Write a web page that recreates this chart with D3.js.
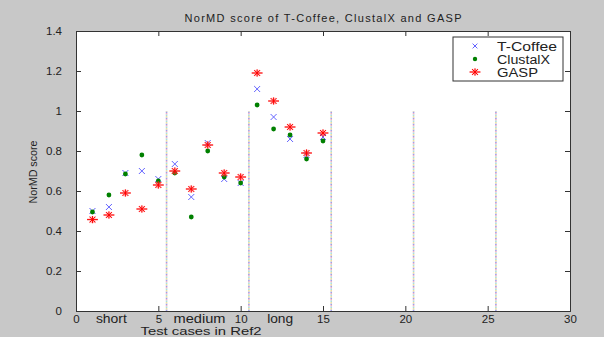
<!DOCTYPE html>
<html>
<head>
<meta charset="utf-8">
<script src="https://cdn.jsdelivr.net/npm/d3@7"></script>
<style>
  body { margin: 0; background: #c8c8c8; }
  svg { display: block; font-family: "Liberation Sans", Arial, sans-serif; }
</style>
</head>
<body>
<svg id="chart" width="604" height="337"></svg>
<script>
// test case numbers 1..15
const cases = [1, 2, 3, 4, 5, 6, 7, 8, 9, 10, 11, 12, 13, 14, 15];
const tcoffee = [0.50, 0.52, 0.69, 0.70, 0.66, 0.735, 0.57, 0.84, 0.66, 0.64, 1.11, 0.97, 0.86, 0.78, 0.87];
const clustalx = [0.495, 0.58, 0.685, 0.78, 0.65, 0.69, 0.47, 0.80, 0.67, 0.64, 1.03, 0.91, 0.88, 0.76, 0.85];
const gasp = [0.457, 0.48, 0.59, 0.51, 0.63, 0.70, 0.61, 0.83, 0.69, 0.67, 1.19, 1.05, 0.92, 0.79, 0.89];
const xTicks = [0, 5, 10, 15, 20, 25, 30];
const yTicks = [0, 0.2, 0.4, 0.6, 0.8, 1, 1.2, 1.4];
const dividers = [5.5, 10.5, 15.5, 20.5, 25.5];
const groupLabels = [{name: 'short', at: 2.15, w: 31}, {name: 'medium', at: 7.5, w: 52}, {name: 'long', at: 12.4, w: 26}];

const svg = d3.select('#chart');
const plotL = 76, plotR = 570, plotT = 31, plotB = 311;

const x = d3.scaleLinear().domain([0, 30]).range([plotL, plotR]);
const y = d3.scaleLinear().domain([0, 1.4]).range([plotB, plotT]);

svg.append('rect')
  .attr('x', plotL).attr('y', plotT)
  .attr('width', plotR - plotL).attr('height', plotB - plotT)
  .attr('fill', '#fff');

// dotted separators, multi-coloured like the original
const dashColors = ['#a0a0e8', '#f0b0c4', '#a8dede', '#eee0a0'];
dividers.forEach(d => {
  dashColors.forEach((c, i) => {
    svg.append('line')
      .attr('x1', x(d)).attr('x2', x(d))
      .attr('y1', y(0)).attr('y2', y(1))
      .attr('stroke', c)
      .attr('stroke-width', 1.6)
      .attr('stroke-dasharray', '1.5 4.5')
      .attr('stroke-dashoffset', i * 1.5);
  });
});

// axes, MATLAB style: ticks inward on all four sides
const tickLen = 5;
const axisCol = '#333';
const bx = svg.append('g')
  .attr('transform', `translate(0,${plotB})`)
  .call(d3.axisBottom(x).tickValues(xTicks).tickSize(-tickLen).tickFormat(d3.format('d')));
const tx = svg.append('g')
  .attr('transform', `translate(0,${plotT})`)
  .call(d3.axisTop(x).tickValues(xTicks).tickSize(-tickLen).tickFormat(''));
const ly = svg.append('g')
  .attr('transform', `translate(${plotL},0)`)
  .call(d3.axisLeft(y).tickValues(yTicks).tickSize(-tickLen).tickPadding(14).tickFormat(d => d === 0 || d === 1 ? d3.format('d')(d) : d3.format('.1f')(d)));
const ry = svg.append('g')
  .attr('transform', `translate(${plotR},0)`)
  .call(d3.axisRight(y).tickValues(yTicks).tickSize(-tickLen).tickFormat(''));

[bx, tx, ly, ry].forEach(g => {
  g.select('.domain').attr('stroke', axisCol).attr('stroke-width', 1);
  g.selectAll('.tick line').attr('stroke', axisCol);
  g.selectAll('.tick text').attr('fill', '#222').style('font-size', '11.5px')
    .style('font-family', '"Liberation Sans", Arial, sans-serif');
});
bx.selectAll('.tick text').attr('y', 12).attr('dy', 0);

// group labels under the x axis
svg.selectAll('.grp')
  .data(groupLabels)
  .enter().append('text')
  .attr('class', 'grp')
  .attr('x', d => x(d.at))
  .attr('y', 323)
  .attr('text-anchor', 'middle')
  .attr('fill', '#222')
  .style('font-size', '12px')
  .attr('textLength', d => d.w).attr('lengthAdjust', 'spacingAndGlyphs')
  .text(d => d.name);

// titles
svg.append('text')
  .attr('x', 323).attr('y', 22)
  .attr('text-anchor', 'middle')
  .attr('fill', '#222')
  .style('font-size', '11px')
  .attr('textLength', 277).attr('lengthAdjust', 'spacing')
  .text('NorMD score of T-Coffee, ClustalX and GASP');

svg.append('text')
  .attr('x', 201).attr('y', 335)
  .attr('text-anchor', 'middle')
  .attr('fill', '#222')
  .style('font-size', '11.5px')
  .attr('textLength', 121).attr('lengthAdjust', 'spacingAndGlyphs')
  .text('Test cases in Ref2');

svg.append('text')
  .attr('transform', 'translate(37,172) rotate(-90)')
  .attr('text-anchor', 'middle')
  .attr('fill', '#222')
  .style('font-size', '10px')
  .attr('textLength', 63).attr('lengthAdjust', 'spacingAndGlyphs')
  .text('NorMD score');

// markers
const crossPath = s => `M${-s},${-s}L${s},${s}M${-s},${s}L${s},${-s}`;
const starPath = s => `M${-s * 1.5},0L${s * 1.5},0M0,${-s}L0,${s}M${-s * 0.8},${-s * 0.8}L${s * 0.8},${s * 0.8}M${-s * 0.8},${s * 0.8}L${s * 0.8},${-s * 0.8}`;

function drawStar(g) {
  g.append('path').attr('d', starPath(3.6)).attr('stroke', '#ff7070').attr('stroke-width', 2).attr('fill', 'none').attr('opacity', 0.45);
  g.append('path').attr('d', starPath(3.6)).attr('stroke', '#ff0000').attr('stroke-width', 1).attr('fill', 'none');
}

svg.append('g').selectAll('path')
  .data(cases.map((c, i) => [c, tcoffee[i]]))
  .enter().append('path')
  .attr('transform', d => `translate(${x(d[0])},${y(d[1])})`)
  .attr('d', crossPath(3))
  .attr('stroke', '#6464ff').attr('stroke-width', 1).attr('fill', 'none');

svg.append('g').selectAll('circle')
  .data(cases.map((c, i) => [c, clustalx[i]]))
  .enter().append('circle')
  .attr('cx', d => x(d[0])).attr('cy', d => y(d[1]))
  .attr('r', 2.4).attr('fill', '#008000');

svg.append('g').selectAll('g')
  .data(cases.map((c, i) => [c, gasp[i]]))
  .enter().append('g')
  .attr('transform', d => `translate(${x(d[0])},${y(d[1])})`)
  .each(function() { drawStar(d3.select(this)); });

// legend
const lg = svg.append('g');
lg.append('rect')
  .attr('x', 453).attr('y', 37).attr('width', 110).attr('height', 44)
  .attr('fill', '#fff').attr('stroke', '#333').attr('stroke-width', 1);
const legendItems = [{name: 'T-Coffee', w: 60}, {name: 'ClustalX', w: 53}, {name: 'GASP', w: 41}];
legendItems.forEach((item, i) => {
  const yy = 46 + i * 13;
  if (i === 0) {
    lg.append('path').attr('transform', `translate(475,${yy})`).attr('d', crossPath(2.4))
      .attr('stroke', '#6464ff').attr('stroke-width', 1).attr('fill', 'none');
  } else if (i === 1) {
    lg.append('circle').attr('cx', 475).attr('cy', yy).attr('r', 2.2).attr('fill', '#008000');
  } else {
    drawStar(lg.append('g').attr('transform', `translate(475,${yy})`));
  }
  lg.append('text')
    .attr('x', 497).attr('y', yy + 4.5)
    .attr('fill', '#222')
    .style('font-size', '12.5px')
    .attr('textLength', item.w).attr('lengthAdjust', 'spacingAndGlyphs')
    .text(item.name);
});
</script>
</body>
</html>
